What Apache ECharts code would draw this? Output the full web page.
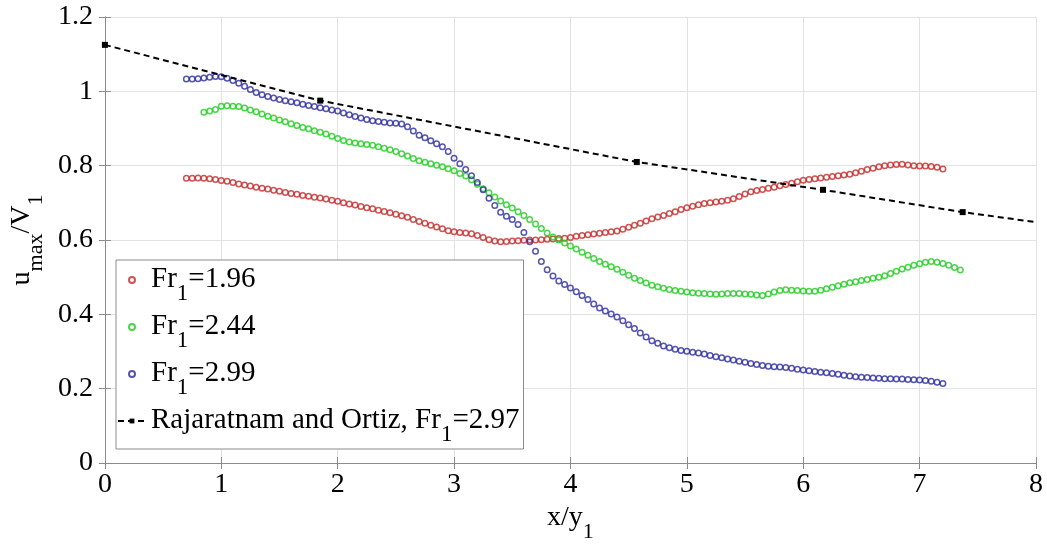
<!DOCTYPE html>
<html>
<head>
<meta charset="utf-8">
<script src="https://cdn.jsdelivr.net/npm/echarts@6/dist/echarts.min.js"></script>
<style>html,body{margin:0;padding:0;background:#fff}#c{width:1047px;height:549px}</style>
</head>
<body>
<div id="c"></div>
<script>
// x positions of the measured points
const xRB = [0.70,0.75,0.80,0.85,0.90,0.95,1.00,1.05,1.10,1.15,1.20,1.25,1.30,1.35,1.40,1.45,1.50,1.55,1.60,1.65,1.70,1.75,1.80,1.85,1.90,1.95,2.00,2.05,2.10,2.15,2.20,2.25,2.30,2.35,2.40,2.45,2.50,2.55,2.60,2.65,2.70,2.75,2.80,2.85,2.90,2.95,3.00,3.05,3.10,3.15,3.20,3.25,3.30,3.35,3.40,3.45,3.50,3.55,3.60,3.65,3.70,3.75,3.80,3.85,3.90,3.95,4.00,4.05,4.10,4.15,4.20,4.25,4.30,4.35,4.40,4.45,4.50,4.55,4.60,4.65,4.70,4.75,4.80,4.85,4.90,4.95,5.00,5.05,5.10,5.15,5.20,5.25,5.30,5.35,5.40,5.45,5.50,5.55,5.60,5.65,5.70,5.75,5.80,5.85,5.90,5.95,6.00,6.05,6.10,6.15,6.20,6.25,6.30,6.35,6.40,6.45,6.50,6.55,6.60,6.65,6.70,6.75,6.80,6.85,6.90,6.95,7.00,7.05,7.10,7.15,7.20];
const xGreen = [0.85,0.90,0.95,1.00,1.05,1.10,1.15,1.20,1.25,1.30,1.35,1.40,1.45,1.50,1.55,1.60,1.65,1.70,1.75,1.80,1.85,1.90,1.95,2.00,2.05,2.10,2.15,2.20,2.25,2.30,2.35,2.40,2.45,2.50,2.55,2.60,2.65,2.70,2.75,2.80,2.85,2.90,2.95,3.00,3.05,3.10,3.15,3.20,3.25,3.30,3.35,3.40,3.45,3.50,3.55,3.60,3.65,3.70,3.75,3.80,3.85,3.90,3.95,4.00,4.05,4.10,4.15,4.20,4.25,4.30,4.35,4.40,4.45,4.50,4.55,4.60,4.65,4.70,4.75,4.80,4.85,4.90,4.95,5.00,5.05,5.10,5.15,5.20,5.25,5.30,5.35,5.40,5.45,5.50,5.55,5.60,5.65,5.70,5.75,5.80,5.85,5.90,5.95,6.00,6.05,6.10,6.15,6.20,6.25,6.30,6.35,6.40,6.45,6.50,6.55,6.60,6.65,6.70,6.75,6.80,6.85,6.90,6.95,7.00,7.05,7.10,7.15,7.20,7.25,7.30,7.35];

// u_max/V1 values
const yFr196 = [.766,.766,.767,.766,.765,.763,.760,.758,.755,.751,.748,.745,.742,.739,.737,.734,.731,.728,.725,.723,.720,.718,.715,.713,.710,.707,.704,.700,.697,.694,.690,.687,.684,.680,.677,.673,.669,.665,.661,.655,.650,.645,.640,.635,.630,.625,.622,.620,.619,.617,.612,.607,.601,.597,.595,.596,.597,.598,.599,.600,.600,.601,.602,.603,.604,.605,.607,.610,.612,.614,.616,.618,.620,.622,.624,.629,.634,.640,.645,.651,.657,.662,.666,.671,.676,.682,.687,.691,.695,.698,.700,.702,.704,.707,.711,.717,.724,.730,.733,.736,.739,.742,.746,.749,.753,.757,.761,.763,.765,.767,.769,.771,.773,.775,.777,.781,.785,.790,.793,.797,.800,.802,.803,.804,.802,.800,.799,.799,.798,.796,.791];
const yFr244 = [.944,.947,.951,.960,.961,.960,.959,.955,.950,.945,.939,.933,.928,.923,.918,.913,.908,.903,.899,.894,.890,.885,.879,.873,.868,.864,.861,.859,.857,.855,.851,.847,.843,.838,.832,.826,.819,.813,.809,.805,.801,.797,.792,.786,.779,.772,.762,.750,.738,.727,.716,.705,.695,.686,.676,.666,.655,.643,.631,.619,.608,.600,.592,.584,.576,.567,.559,.550,.542,.535,.528,.521,.513,.505,.497,.491,.484,.478,.474,.470,.467,.464,.462,.460,.458,.457,.456,.455,.454,.455,.456,.456,.456,.455,.454,.452,.451,.455,.460,.464,.466,.465,.464,.463,.462,.462,.465,.469,.473,.477,.481,.485,.488,.491,.494,.497,.500,.504,.510,.516,.522,.527,.532,.536,.540,.542,.540,.537,.532,.526,.519];
const yFr299 = [1.033,1.033,1.034,1.036,1.038,1.040,1.039,1.035,1.029,1.022,1.014,1.005,.997,.991,.986,.982,.978,.975,.972,.969,.965,.962,.959,.956,.953,.950,.947,.942,.937,.932,.928,.924,.921,.919,.917,.915,.914,.912,.905,.893,.882,.875,.867,.859,.851,.838,.820,.805,.790,.773,.755,.735,.712,.693,.675,.664,.655,.642,.620,.595,.570,.542,.520,.503,.490,.480,.471,.461,.451,.440,.428,.417,.409,.401,.393,.383,.372,.362,.350,.339,.329,.322,.315,.310,.306,.303,.301,.298,.296,.293,.289,.286,.283,.280,.277,.274,.271,.268,.265,.262,.260,.259,.258,.257,.255,.252,.250,.248,.246,.244,.243,.241,.239,.236,.234,.232,.231,.230,.229,.228,.227,.227,.226,.226,.225,.224,.223,.222,.220,.217,.214];

// Rajaratnam and Ortiz reference curve
const xRO = [0, 1.85, 4.57, 6.17, 7.37, 8.0];
const yRO = [1.125, 0.975, 0.81, 0.735, 0.675, 0.648];
const roMarked = [true, true, true, true, true, false];

const seriesNames = ['Fr1=1.96', 'Fr1=2.44', 'Fr1=2.99', 'Rajaratnam and Ortiz, Fr1=2.97'];
const xTicks = [0,1,2,3,4,5,6,7,8];
const yTicks = [0,0.2,0.4,0.6,0.8,1,1.2];

const FONT = "'Times New Roman', 'Liberation Serif', serif";
const pair = (xs, ys) => ys.map((y, i) => [xs[i], y]);

function richName(name) {
  const parts = name.split('Fr1');
  return '{m|' + parts[0] + 'Fr}{s|1}{m|' + parts[1] + '}';
}

const chart = echarts.init(document.getElementById('c'), null, {renderer: 'canvas'});

const scatterSeries = (name, data, color) => ({
  name: name,
  type: 'scatter',
  data: data,
  symbol: 'circle',
  symbolSize: 5.5,
  itemStyle: {color: 'rgba(0,0,0,0)', borderColor: color, borderWidth: 1.5},
  emphasis: {disabled: true},
  z: 3
});

const roData = xRO.map((x, i) => roMarked[i] ? [x, yRO[i]] : {value: [x, yRO[i]], symbol: 'none'});

const richMain = (fs) => ({fontFamily: FONT, fontSize: fs, color: '#000', lineHeight: 30, height: fs, verticalAlign: 'top'});
const richSub = (fs) => ({fontFamily: FONT, fontSize: fs, color: '#000', lineHeight: 30, height: fs, verticalAlign: 'top', padding: [17, 0, 0, 0]});

const option = {
  animation: false,
  backgroundColor: '#fff',
  grid: {left: 102, right: 11, top: 17, bottom: 86, containLabel: false},
  xAxis: [{
    type: 'value', min: 0, max: 8, interval: 1,
    name: '{m|x/y}{s|1}',
    nameLocation: 'middle', nameGap: 40,
    nameTextStyle: {fontFamily: FONT, color: '#000', rich: {m: richMain(28), s: richSub(22)}},
    axisLine: {show: true, lineStyle: {color: '#8a8a8a', width: 1}},
    axisTick: {show: true, inside: true, length: 6, lineStyle: {color: '#8a8a8a'}},
    axisLabel: {fontFamily: FONT, fontSize: 28, color: '#000', margin: 8,
      formatter: v => xTicks.includes(v) ? String(v) : ''},
    splitLine: {show: true, lineStyle: {color: '#e2e2e2', width: 1}}
  }, {
    type: 'value', min: 0, max: 8, interval: 1, position: 'top',
    axisLine: {show: true, lineStyle: {color: '#8a8a8a', width: 1}},
    axisTick: {show: true, inside: true, length: 6, lineStyle: {color: '#8a8a8a'}},
    axisLabel: {show: false}, splitLine: {show: false}
  }],
  yAxis: [{
    type: 'value', min: 0, max: 1.2, interval: 0.2,
    name: '{m|u}{s|max}{m|/V}{s|1}',
    nameLocation: 'middle', nameGap: 58, nameRotate: 90,
    nameTextStyle: {fontFamily: FONT, color: '#000', rich: {m: richMain(28), s: richSub(22)}},
    axisLine: {show: true, lineStyle: {color: '#8a8a8a', width: 1}},
    axisTick: {show: true, inside: true, length: 6, lineStyle: {color: '#8a8a8a'}},
    axisLabel: {fontFamily: FONT, fontSize: 28, color: '#000', margin: 12,
      formatter: v => String(Math.round(v * 10) / 10)},
    splitLine: {show: true, lineStyle: {color: '#e2e2e2', width: 1}}
  }, {
    type: 'value', min: 0, max: 1.2, interval: 0.2, position: 'right',
    axisLine: {show: true, lineStyle: {color: '#8a8a8a', width: 1}},
    axisTick: {show: true, inside: true, length: 6, lineStyle: {color: '#8a8a8a'}},
    axisLabel: {show: false}, splitLine: {show: false}
  }],
  legend: {
    orient: 'vertical', left: 116, top: 260,
    data: seriesNames,
    itemWidth: 28, itemHeight: 6, itemGap: 7,
    padding: [5, 4, 3, 1],
    backgroundColor: '#fff', borderColor: '#8a8a8a', borderWidth: 1,
    formatter: name => richName(name),
    textStyle: {fontFamily: FONT, color: '#000', rich: {m: richMain(29), s: richSub(23)}},
    selectedMode: false
  },
  series: [
    scatterSeries(seriesNames[0], pair(xRB, yFr196), '#c42828'),
    scatterSeries(seriesNames[1], pair(xGreen, yFr244), '#1ccc1c'),
    scatterSeries(seriesNames[2], pair(xRB, yFr299), '#2a2a9c'),
    {
      name: seriesNames[3], type: 'line', data: roData,
      symbol: 'rect', symbolSize: 6, showSymbol: true,
      itemStyle: {color: '#000'},
      lineStyle: {color: '#000', width: 2, type: [6, 4]},
      emphasis: {disabled: true}, z: 4
    }
  ]
};
chart.setOption(option);
</script>
</body>
</html>
